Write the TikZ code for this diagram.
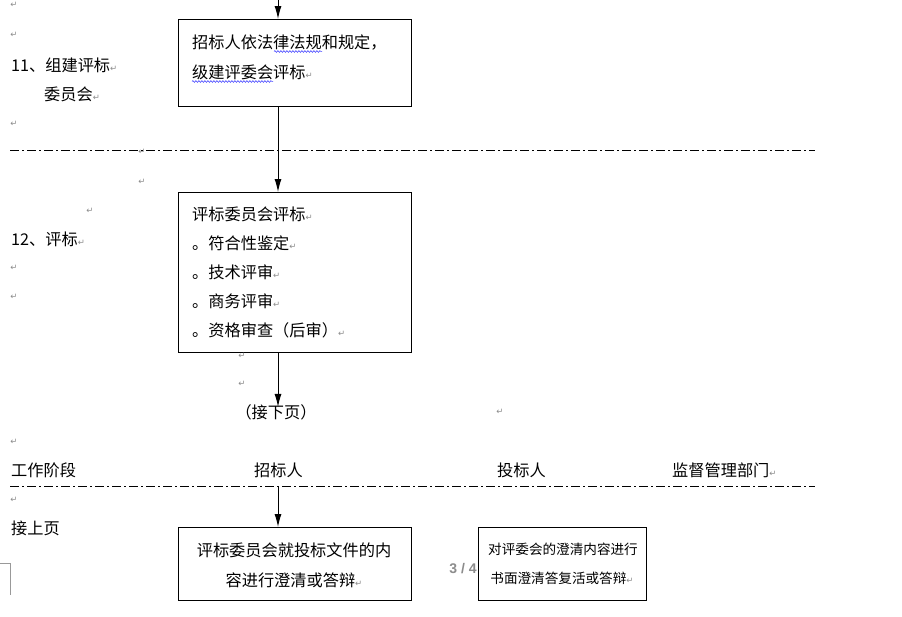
\documentclass[tikz,border=0pt]{standalone}
\usepackage{fontspec}
\setmainfont{Noto Sans CJK SC}
\newfontfamily\dejavufam{DejaVu Sans}
\newfontfamily\libsans{Liberation Sans}
\usetikzlibrary{arrows.meta,decorations.pathmorphing}
\newcommand\retmark{\textcolor{black!45}{\dejavufam\fontsize{8.5}{8.5}\selectfont ↵}}
\tikzset{
  box/.style={draw, line width=0.8pt, inner sep=0pt, anchor=north west},
  txt/.style={anchor=base west, inner sep=0pt, font=\fontsize{16.2}{18}\selectfont},
  ctxt/.style={anchor=base, inner sep=0pt, font=\fontsize{16.2}{18}\selectfont},
  pmark/.style={inner sep=0pt},
  arr/.style={line width=1pt, -{Latex[length=13pt,width=7pt]}},
  dashdot/.style={line width=0.8pt, dash pattern=on 9pt off 3pt on 2pt off 3pt},
  wavy/.style={blue!80, line width=0.5pt, decorate, decoration={snake, amplitude=0.9pt, segment length=3pt}},
}
\begin{document}
\begin{tikzpicture}[x=1pt,y=-1pt]
\fill[white] (0,0) rectangle (902,616);
\useasboundingbox (0,0) rectangle (902,616);

% boxes
\node[box, minimum width=233pt, minimum height=87pt] (box1) at (178,19) {};
\node[box, minimum width=233pt, minimum height=160pt] (box2) at (178,192) {};
\node[box, minimum width=233pt, minimum height=73pt] (box3) at (178,527) {};
\node[box, minimum width=168pt, minimum height=73pt] (box4) at (478,527) {};

% box texts
\node[txt] (b1a) at (192,48) {招标人依法律法规和规定，};
\node[txt] (b1b) at (192,78) {级建评委会评标\retmark};
\draw[wavy] (274,51.5) -- (322,51.5);
\draw[wavy] (192,81.5) -- (273,81.5);

\node[txt] (b2a) at (192,220) {评标委员会评标\retmark};
\node[txt] (b2b) at (192,249) {。符合性鉴定\retmark};
\node[txt] (b2c) at (192,278) {。技术评审\retmark};
\node[txt] (b2d) at (192,307) {。商务评审\retmark};
\node[txt] (b2e) at (192,336) {。资格审查（后审）\retmark};

\node[ctxt] (b3a) at (294,556) {评标委员会就投标文件的内};
\node[ctxt] (b3b) at (294,586) {容进行澄清或答辩\retmark};

\node[anchor=base, inner sep=0pt, font=\fontsize{13.6}{16}\selectfont] (b4a) at (563,554) {对评委会的澄清内容进行};
\node[anchor=base, inner sep=0pt, font=\fontsize{13.6}{16}\selectfont] (b4b) at (562,583) {书面澄清答复活或答辩\retmark};

% left column texts
\node[txt] (s11a) at (11,71) {11、组建评标\retmark};
\node[txt] (s11b) at (44,100) {委员会\retmark};
\node[txt] (s12) at (11,245) {12、评标\retmark};
\node[ctxt, inner ysep=0pt] (next) at (276,418) {（接下页）};
\node[txt] (h1) at (11,476) {工作阶段};
\node[txt] (h2) at (254,476) {招标人};
\node[txt] (h3) at (497,476) {投标人};
\node[txt] (h4) at (672,476) {监督管理部门\retmark};
\node[txt] (prev) at (11,534) {接上页};

% page number
\node[anchor=base, inner sep=0pt, font=\libsans\bfseries\fontsize{14}{16}\selectfont, text=black!45] (pg) at (463,573) {3 / 4};

% paragraph marks
\foreach \i/\p in {m1/{(14,5)}, m2/{(14,35)}, m3/{(14,124)}, m4/{(142,152)}, m5/{(142,182)}, m6/{(90,211)}, m7/{(14,268)}, m8/{(14,297)}, m9/{(242,356)}, m10/{(242,384)}, m11/{(500,412)}, m12/{(14,442)}, m13/{(14,500)}}
  \node[pmark] (\i) at \p {\retmark};

% dash-dot separators
\coordinate (l1a) at (10,150);
\coordinate (l1b) at (815,150);
\coordinate (l2a) at (10,486);
\coordinate (l2b) at (815,486);
\draw[dashdot] (l1a) -- (l1b);
\draw[dashdot] (l2a) -- (l2b);

% connectors
\coordinate (top) at (278,0);
\coordinate (l2m) at (278,486);
\draw[arr] (top) -- (top |- box1.north);
\draw[arr] (box1.south -| top) -- (box2.north -| top);
\draw[arr] (box2.south -| top) -- ([yshift=-3pt]top |- next.north);
\draw[arr] (l2m) -- (box3.north -| l2m);

% page corner mark
\draw[black!40, line width=0.8pt] (0,563) -- (10,563) -- (10,595);
\end{tikzpicture}
\end{document}
